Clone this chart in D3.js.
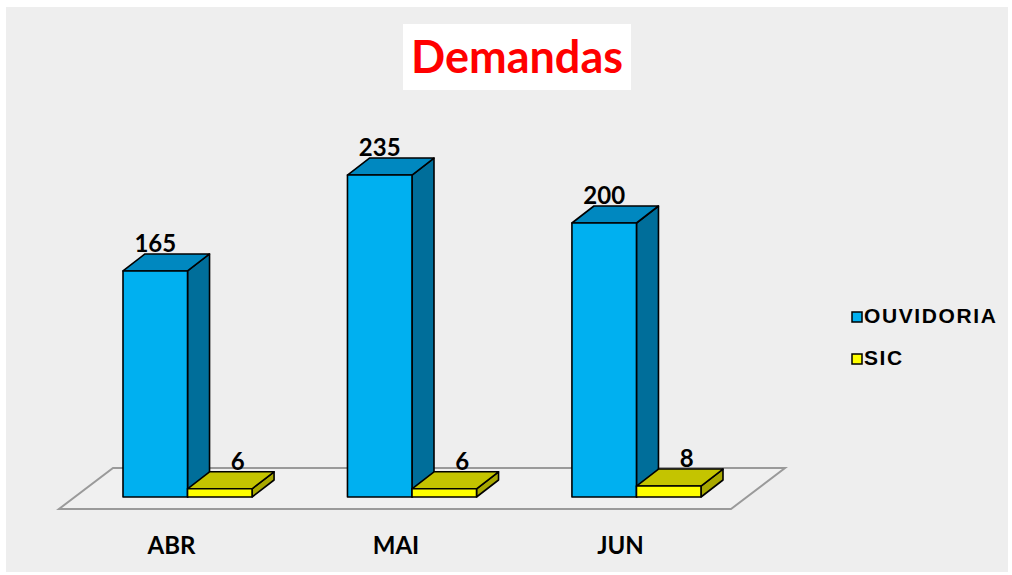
<!DOCTYPE html>
<html>
<head>
<meta charset="utf-8">
<script src="https://cdn.jsdelivr.net/npm/d3@7/dist/d3.min.js"></script>
<style>
  html, body { margin: 0; padding: 0; background: #fff; }
  svg { display: block; }
</style>
</head>
<body>
<div id="chart"></div>
<script>
const months = ['ABR', 'MAI', 'JUN'];
const series = ['OUVIDORIA', 'SIC'];
const ouvidoria = [165, 235, 200];
const sic = [6, 6, 8];

const width = 1012;
const height = 575;
const depth = { dx: 22, dy: -17 };
const colors = {
  OUVIDORIA: { front: '#00b0f0', top: '#0088c0', side: '#006e9a' },
  SIC: { front: '#ffff00', top: '#c4c400', side: '#a8a800' },
};

const data = months.map((m, i) => ({ month: m, OUVIDORIA: ouvidoria[i], SIC: sic[i] }));

const svg = d3.select('#chart')
  .append('svg')
    .attr('width', width)
    .attr('height', height);

// background panel
svg.append('rect')
  .attr('x', 6)
  .attr('y', 7)
  .attr('width', 1002)
  .attr('height', 565)
  .attr('fill', '#eeeeee');

// title
svg.append('rect')
  .attr('x', 403)
  .attr('y', 24)
  .attr('width', 228)
  .attr('height', 66)
  .attr('fill', '#ffffff');

svg.append('text')
  .attr('x', 517)
  .attr('y', 73)
  .attr('text-anchor', 'middle')
  .style('font-family', 'Lato, "Open Sans", sans-serif')
  .style('font-weight', 'bold')
  .style('font-size', '45px')
  .attr('fill', '#ff0000')
  .text('Demandas');

// scales
const x = d3.scaleBand()
  .domain(months)
  .range([123, 701])
  .paddingInner(0.425);

const xSeries = d3.scaleBand()
  .domain(series)
  .range([0, x.bandwidth()]);

const y = d3.scaleLinear()
  .domain([0, 250])
  .range([497, 154.5]);

// floor
const [fx0, fx1] = x.range();
const floorFront = 509;
const floorBack = 468;
svg.append('path')
  .attr('d', d3.line()([
    [fx0 - 64, floorFront],
    [fx1 + 30, floorFront],
    [fx1 + 84, floorBack],
    [fx0 - 10, floorBack],
  ]) + 'Z')
  .attr('fill', '#f0f0f0')
  .attr('stroke', '#9a9a9a')
  .attr('stroke-width', 2);

// 3d bars
const bars = svg.append('g').attr('class', 'bars');

data.forEach(d => {
  series.forEach(s => {
    const x0 = x(d.month) + xSeries(s);
    const x1 = x0 + xSeries.bandwidth();
    const y0 = y(0);
    const y1 = y(d[s]);
    const c = colors[s];
    const g = bars.append('g');

    g.append('path')
      .attr('d', d3.line()([[x1, y0], [x1 + depth.dx, y0 + depth.dy], [x1 + depth.dx, y1 + depth.dy], [x1, y1]]) + 'Z')
      .attr('fill', c.side);
    g.append('path')
      .attr('d', d3.line()([[x0, y1], [x0 + depth.dx, y1 + depth.dy], [x1 + depth.dx, y1 + depth.dy], [x1, y1]]) + 'Z')
      .attr('fill', c.top);
    g.append('rect')
      .attr('x', x0)
      .attr('y', y1)
      .attr('width', x1 - x0)
      .attr('height', y0 - y1)
      .attr('fill', c.front);

    g.selectAll('path, rect')
      .attr('stroke', '#000')
      .attr('stroke-width', 1.6)
      .attr('stroke-linejoin', 'round');

    // value label
    g.append('text')
      .attr('x', (x0 + x1) / 2 + (s === 'SIC' ? 18 : 0))
      .attr('y', y1 + depth.dy - 2)
      .attr('text-anchor', 'middle')
      .style('font-family', 'Lato, "Open Sans", sans-serif')
      .style('font-weight', 'bold')
      .style('font-size', '24px')
      .attr('fill', '#000')
      .text(d[s]);
  });
});

// category labels
svg.append('g')
  .selectAll('text')
  .data(months)
  .enter()
  .append('text')
    .attr('x', d => x(d) + x.bandwidth() / 2 - 16)
    .attr('y', 554)
    .attr('text-anchor', 'middle')
    .style('font-family', 'Lato, "Open Sans", sans-serif')
    .style('font-weight', 'bold')
    .style('font-size', '24px')
    .attr('fill', '#000')
    .text(d => d);

// legend
const legend = svg.append('g')
  .selectAll('g')
  .data(series)
  .enter()
  .append('g')
    .attr('transform', (d, i) => `translate(852, ${312 + i * 42})`);

legend.append('rect')
  .attr('width', 10)
  .attr('height', 10)
  .attr('fill', d => colors[d].front)
  .attr('stroke', '#000')
  .attr('stroke-width', 1.5);

legend.append('text')
  .attr('x', 12)
  .attr('y', 11)
  .style('font-family', '"Liberation Sans", Arial, sans-serif')
  .style('font-weight', 'bold')
  .style('font-size', '21px')
  .style('letter-spacing', '1.6px')
  .attr('fill', '#000')
  .text(d => d);
</script>
</body>
</html>
